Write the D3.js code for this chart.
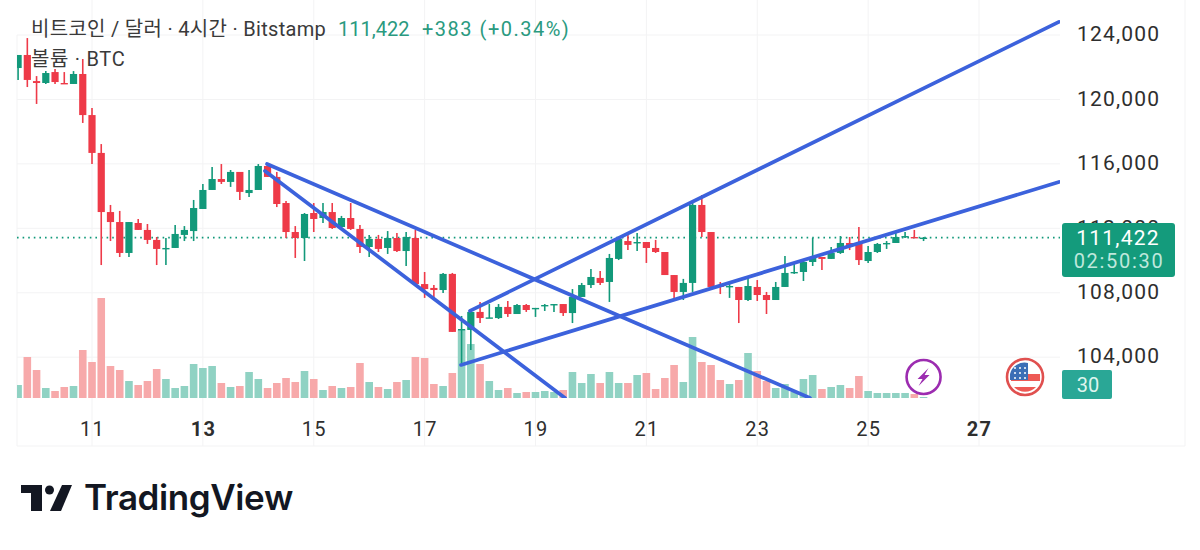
<!DOCTYPE html>
<html>
<head>
<meta charset="utf-8">
<script src="https://cdn.jsdelivr.net/npm/d3@7"></script>
<style>
  html, body { margin: 0; padding: 0; background: #fff; }
  svg { display: block; }
  text { font-family: Roboto, "Noto Sans CJK KR", sans-serif; }
</style>
</head>
<body>
<script>
// 4h candles, first one starts at day 9.67 of the month
const open = [121950,122760,121140,121020,121700,121020,120960,121580,119030,116680,113010,112390,110470,112330,111900,111280,110720,110780,111590,111830,113200,114380,115060,114880,115500,114190,114380,115870,115190,113570,111770,111400,112950,112640,113010,112080,112640,111960,110840,111340,110780,111400,110590,111400,108540,108300,108170,109170,105690,105690,106810,106430,106430,107120,106680,107240,106990,107180,107240,107300,106740,107740,108480,108920,108670,110100,111210,111090,111150,110780,110530,109100,108050,108610,113450,111770,108480,108360,108360,107550,108360,107860,107550,108360,109230,109290,109910,110220,110100,110470,111090,111090,109970,110530,111030,111090,111460,111460,111400];
const high = [122760,123810,121450,121760,121890,121700,121760,122510,119470,117230,113450,113080,112390,112580,112270,111460,111400,112210,112140,113760,114750,115810,115990,115620,115500,115620,115990,115870,115500,113700,112140,112950,113570,113570,113570,112770,113570,112210,111590,111590,111830,111710,111770,111900,109290,108480,109230,109230,106560,106870,107430,107300,107300,107490,107300,107300,107060,107300,107300,107300,108230,108610,109480,109350,110410,111400,111650,111710,111150,111280,110530,109100,108860,113570,114070,111770,108670,108540,108360,108980,108790,108050,108670,110280,109850,110030,111400,110220,110840,111520,111460,112080,110900,111090,111210,111710,111770,111900,111460];
const low = [121210,120770,119720,120960,120960,120960,120960,118540,115990,109720,111210,110220,110220,111900,111030,109720,109720,110780,111210,111210,113200,114380,114750,114570,113760,113950,114380,115190,113320,111400,110160,109970,111770,112330,111960,112020,111900,110470,110220,110530,110410,110530,109660,108480,107680,107680,107990,105570,103640,104450,106120,106430,106370,106500,106680,106810,106500,106870,106810,106560,106120,107740,108300,108480,107430,110030,110650,110590,109850,110470,109100,107490,107550,108050,111460,108170,107920,107680,106120,107490,107490,106680,107550,108360,109170,108730,109660,109410,110100,110410,110650,109720,109850,110470,110720,111090,111400,111400,111210];
const close = [122760,121210,121020,121640,121080,120960,121580,119030,116680,113010,112390,110470,112390,111900,111280,110720,110780,111650,111900,113260,114380,115060,114880,115500,114260,114380,115870,115190,113510,111770,111400,112890,112580,113010,112020,112640,111960,110840,111340,110720,111400,110590,111460,108540,108230,108170,109170,105570,105750,106810,106430,106470,107120,106680,107240,106930,107060,107240,107300,106740,107740,108480,108980,108610,110160,111340,110970,111150,110780,110530,109100,108050,108610,113450,111770,108360,108360,108420,107550,108420,107860,107550,108360,109230,109290,109910,110220,110100,110470,111090,110900,110030,110530,111030,111090,111460,111520,111400,111422];
const volume = [130,410,280,100,70,110,120,480,360,1000,320,280,170,130,170,290,190,100,120,340,300,320,150,110,120,260,190,100,150,200,160,270,190,80,120,100,110,350,160,110,90,160,180,410,400,140,120,250,680,540,340,170,80,100,50,60,60,70,60,80,260,150,240,150,260,150,150,230,250,90,200,330,160,610,360,330,180,140,180,450,270,170,100,140,60,190,230,90,110,130,100,220,70,50,50,50,50,40,10];

const dayTicks = [11,13,15,17,19,21,23,25,27];
const boldDays = [13,27];
const priceTicks = [124000,120000,116000,112000,108000,104000];

const lastPrice = 111422;
const countdown = "02:50:30";
const volumeLabel = "30";

// [day, price] end points of the four hand drawn trend lines
const fallUpper = [[14.157,115990],[23.951,101470]];
const fallLower = [[14.12,115560],[19.532,101470]];
const riseUpper = [[17.818,106870],[28.442,124810]];
const riseLower = [[17.656,103520],[28.442,114880]];

const width = 1200, height = 550;
const green = "#12997a", red = "#ee3a48";
const volGreen = "#90d2c3", volRed = "#f7a9aa";
const blue = "#3c62dc";
const plot = { left: 17, right: 1060, bottom: 398, frame: 446, frameRight: 1185 };

const x = d3.scaleLinear().domain([11,27]).range([92,979]);
const y = d3.scaleLinear().domain([124000,104000]).range([35,357.2]);
const yVol = d3.scaleLinear().domain([0,1000]).range([plot.bottom,plot.bottom-100]);
const candleDay = i => 11 + (i-8)/6;
const up = i => close[i] >= open[i];
const bodyW = 7.2, volW = 7.6;

const svg = d3.select("body").append("svg").attr("width",width).attr("height",height);

svg.append("defs").append("clipPath").attr("id","plot")
  .append("rect").attr("x",plot.left).attr("y",0)
  .attr("width",plot.right-plot.left).attr("height",plot.bottom);

// frame and grid
const gridColor = "#f3f3f4";
svg.append("path")
  .attr("d",`M${plot.left},35V${plot.frame}H${plot.frameRight}V0`)
  .attr("fill","none").attr("stroke",gridColor);
svg.append("g").selectAll("line").data(dayTicks).enter().append("line")
  .attr("x1",d=>x(d)).attr("x2",d=>x(d)).attr("y1",0).attr("y2",plot.frame)
  .attr("stroke",gridColor);
svg.append("g").selectAll("line").data(priceTicks).enter().append("line")
  .attr("x1",plot.left).attr("x2",plot.right).attr("y1",d=>y(d)).attr("y2",d=>y(d))
  .attr("stroke",gridColor);

const chart = svg.append("g").attr("clip-path","url(#plot)");
const idx = d3.range(open.length);

chart.append("g").selectAll("rect").data(idx).enter().append("rect")
  .attr("x",i=>x(candleDay(i))-volW/2)
  .attr("width",volW)
  .attr("y",i=>yVol(volume[i]))
  .attr("height",i=>plot.bottom-yVol(volume[i]))
  .attr("fill",i=>up(i)?volGreen:volRed);

chart.append("line")
  .attr("x1",plot.left).attr("x2",plot.right)
  .attr("y1",y(lastPrice)).attr("y2",y(lastPrice))
  .attr("stroke",green).attr("stroke-width",1.6).attr("stroke-dasharray","1.6 4");

const candles = chart.append("g").selectAll("g").data(idx).enter().append("g");
candles.append("line")
  .attr("x1",i=>x(candleDay(i))).attr("x2",i=>x(candleDay(i)))
  .attr("y1",i=>y(high[i])).attr("y2",i=>y(low[i]))
  .attr("stroke",i=>up(i)?green:red).attr("stroke-width",1.6);
candles.append("rect")
  .attr("x",i=>x(candleDay(i))-bodyW/2)
  .attr("width",bodyW)
  .attr("y",i=>y(Math.max(open[i],close[i])))
  .attr("height",i=>Math.max(1.4,Math.abs(y(open[i])-y(close[i]))))
  .attr("fill",i=>up(i)?green:red);

const trend = d3.line().x(d=>x(d[0])).y(d=>y(d[1]));
chart.append("g").selectAll("path").data([fallUpper,fallLower,riseUpper,riseLower]).enter().append("path")
  .attr("d",trend).attr("fill","none").attr("stroke",blue).attr("stroke-width",3.7).attr("stroke-linecap","round");

// axes
const xAxis = d3.axisBottom(x).tickValues(dayTicks).tickFormat(d3.format("d")).tickSize(0).tickPadding(0);
const gx = svg.append("g").attr("transform",`translate(0,${plot.bottom+32})`).call(xAxis);
gx.select(".domain").remove();
gx.selectAll("text").attr("fill","#2e2e2e").style("font-size","20px").style("letter-spacing","1.2px")
  .attr("dy","0.3em")
  .style("font-weight",d=>boldDays.includes(d)?700:400);

const yAxis = d3.axisRight(y).tickValues(priceTicks).tickFormat(d3.format(",")).tickSize(0).tickPadding(0);
const gy = svg.append("g").attr("transform",`translate(1077,-1)`).call(yAxis);
gy.select(".domain").remove();
gy.selectAll("text").attr("fill","#2e2e2e").style("font-size","21px").style("letter-spacing","1.2px");

// price label and volume label on the right axis
svg.append("rect").attr("x",1062).attr("y",223).attr("width",113).attr("height",54).attr("rx",3).attr("fill","#149b7c");
svg.append("text").attr("x",1118).attr("y",245).attr("text-anchor","middle")
  .attr("fill","#fff").style("font-size","21px").style("letter-spacing","1.2px").text(d3.format(",")(lastPrice));
svg.append("text").attr("x",1119).attr("y",268).attr("text-anchor","middle")
  .attr("fill","#bfe8dc").style("font-size","20px").style("letter-spacing","1.7px").text(countdown);
svg.append("rect").attr("x",1062).attr("y",370).attr("width",50).attr("height",29).attr("rx",2).attr("fill","#2aa796");
svg.append("text").attr("x",1088).attr("y",392).attr("text-anchor","middle")
  .attr("fill","#dff5ef").style("font-size","20px").text(volumeLabel);

// header
const title = svg.append("text").attr("x",31).attr("y",36).style("font-size","20px").attr("fill","#3a3a3a");
title.append("tspan").style("letter-spacing","0.3px").text("비트코인 / 달러 · 4시간 · Bitstamp");
title.append("tspan").attr("x",338).attr("fill","#2a9a80").text(d3.format(",")(lastPrice));
title.append("tspan").attr("x",422).attr("fill","#2a9a80").style("letter-spacing","1.5px").text("+383 (+0.34%)");
svg.append("text").attr("x",31).attr("y",66).style("font-size","20px").style("letter-spacing","0.7px").attr("fill","#3a3a3a").text("볼륨 · BTC");

// event markers
const bolt = svg.append("g").attr("transform",`translate(${x(26)},377)`);
bolt.append("circle").attr("r",17).attr("fill","#fff").attr("stroke","#9c2cb0").attr("stroke-width",2.6);
bolt.append("path").attr("d","M5,-9L-6,2H-1L-5,9L6,-2H1Z").attr("fill","#9c2cb0");

const flag = svg.append("g").attr("transform",`translate(${x(27.83)},377)`);
flag.append("circle").attr("r",18).attr("fill","#fff").attr("stroke","#e0504f").attr("stroke-width",2.6);
flag.append("path").attr("d","M-14,-3H15V4H-14ZM-11,10H11A15,15 0 0 1 -11,10Z").attr("fill","#ee5a55");
flag.append("path").attr("d","M-15,3V-3A15,15 0 0 1 3,-14V3Z").attr("fill","#3b6fb6");
svg.append("g").selectAll("circle").data(d3.cross([-10,-5,0],[-9,-4,1])).enter().append("circle")
  .attr("cx",d=>x(27.83)+d[0]).attr("cy",d=>377+d[1]).attr("r",1).attr("fill","#fff");

// TradingView logo
const logo = svg.append("g").attr("fill","#131722");
logo.append("path").attr("d","M21,485H42V511H31V493H21Z");
logo.append("circle").attr("cx",49.5).attr("cy",490).attr("r",4.5);
logo.append("path").attr("d","M62,485H72L61,511H50Z");
logo.append("text").attr("x",84).attr("y",510)
  .style("font-family","Inter, sans-serif").style("font-weight",600).style("font-size","35px").style("letter-spacing","-0.4px")
  .text("TradingView");
</script>
</body>
</html>
